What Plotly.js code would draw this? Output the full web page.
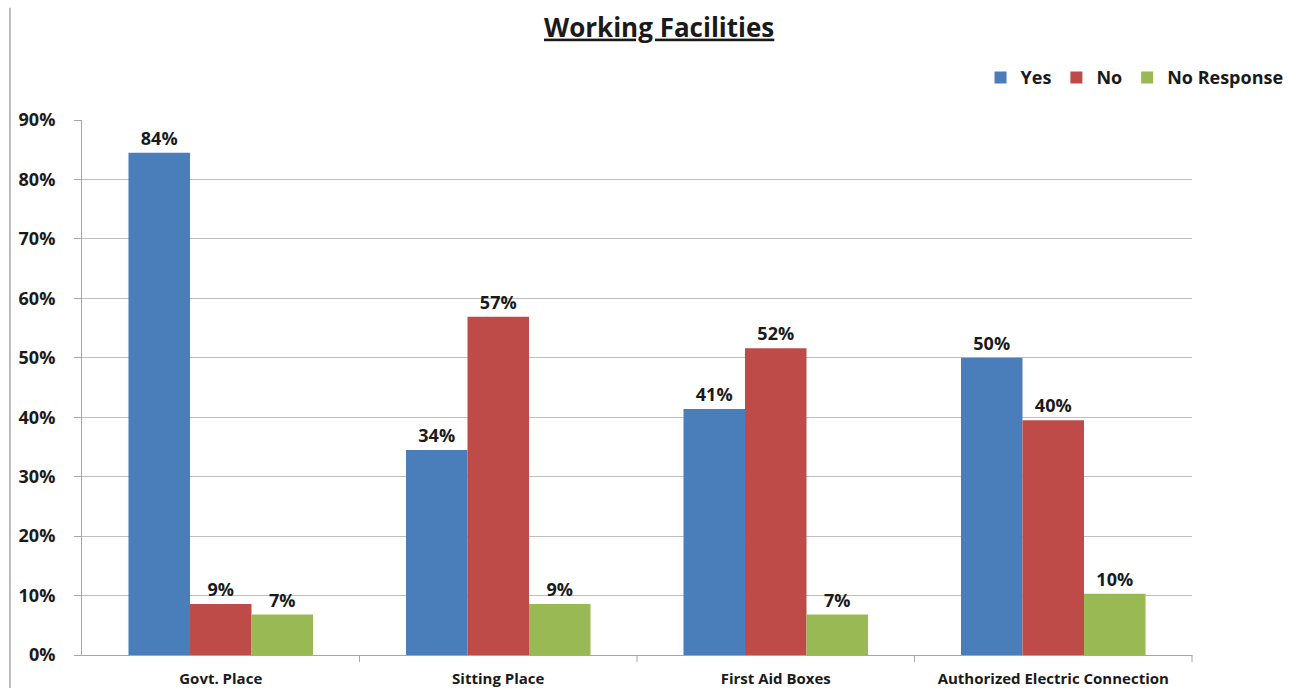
<!DOCTYPE html>
<html>
<head>
<meta charset="utf-8">
<script src="https://cdn.plot.ly/plotly-3.0.1.min.js"></script>
<style>html,body{margin:0;padding:0;background:#fff;}#chart{width:1295px;height:688px;}</style>
</head>
<body>
<div id="chart"></div>
<script>
var categories = ["Govt. Place", "Sitting Place", "First Aid Boxes", "Authorized Electric Connection"];
var yesValues = [0.845, 0.345, 0.414, 0.50];
var noValues = [0.086, 0.569, 0.516, 0.395];
var noResponseValues = [0.068, 0.086, 0.068, 0.103];
var yesLabels = ["84%", "34%", "41%", "50%"];
var noLabels = ["9%", "57%", "52%", "40%"];
var noResponseLabels = ["7%", "9%", "7%", "10%"];
var yTickVals = [0, 0.1, 0.2, 0.3, 0.4, 0.5, 0.6, 0.7, 0.8, 0.9];
var yTickText = ["0%", "10%", "20%", "30%", "40%", "50%", "60%", "70%", "80%", "90%"];

var fontFam = "'Open Sans', 'DejaVu Sans', sans-serif";
var labelFont = {family: fontFam, size: 18, color: "#1a1a1a", weight: "bold"};

function series(name, vals, labels, color) {
  return {
    type: "bar", name: name, x: categories, y: vals,
    text: labels, textposition: "outside", textfont: labelFont,
    cliponaxis: false, marker: {color: color, line: {width: 0}},
    hoverinfo: "none"
  };
}

var data = [
  series("Yes", yesValues, yesLabels, "#4a7ebb"),
  series("No", noValues, noLabels, "#be4b48"),
  series("No Response", noResponseValues, noResponseLabels, "#98b954")
];

var layout = {
  width: 1295, height: 688,
  margin: {l: 82, r: 103, t: 120, b: 33, pad: 0, autoexpand: false},
  paper_bgcolor: "#fff", plot_bgcolor: "#fff",
  title: {text: "<b><u>Working Facilities</u></b>", x: 0.509, xanchor: "center", y: 0.96, yanchor: "middle",
          font: {family: fontFam, size: 26, color: "#1a1a1a"}},
  barmode: "group", bargap: 0.335, bargroupgap: 0,
  showlegend: true,
  legend: {orientation: "h", xref: "container", yref: "container", x: 0.995, xanchor: "right", y: 0.887, yanchor: "middle",
           font: {family: fontFam, size: 18, color: "#1a1a1a", weight: "bold"},
           itemwidth: 30, tracegroupgap: 0, traceorder: "normal"},
  xaxis: {showgrid: false, showline: true, linecolor: "#a6a6a6", linewidth: 1,
          ticks: "outside", ticklen: 0, ticklabelstandoff: 10,
          tickfont: {family: fontFam, size: 15, color: "#1a1a1a", weight: "bold"},
          fixedrange: true},
  yaxis: {range: [0, 0.9], tickvals: yTickVals, ticktext: yTickText,
          showgrid: true, gridcolor: "#bfbfbf", gridwidth: 1, zeroline: false,
          showline: true, linecolor: "#a6a6a6", linewidth: 1,
          ticks: "outside", ticklen: 7, tickcolor: "#a6a6a6",
          tickfont: {family: fontFam, size: 18, color: "#1a1a1a", weight: "bold"}, ticklabelstandoff: 15,
          fixedrange: true},
  shapes: [
    {type: "line", xref: "paper", yref: "paper", x0: -0.0649, x1: -0.0649, y0: -0.07, y1: 1.21,
     line: {color: "#a6a6a6", width: 1.5}},
    {type: "line", xref: "paper", yref: "paper", x0: 0.25, x1: 0.25, y0: 0, y1: -0.013, line: {color: "#a6a6a6", width: 1}},
    {type: "line", xref: "paper", yref: "paper", x0: 0.5, x1: 0.5, y0: 0, y1: -0.013, line: {color: "#a6a6a6", width: 1}},
    {type: "line", xref: "paper", yref: "paper", x0: 0.75, x1: 0.75, y0: 0, y1: -0.013, line: {color: "#a6a6a6", width: 1}},
    {type: "line", xref: "paper", yref: "paper", x0: 1, x1: 1, y0: 0, y1: -0.013, line: {color: "#a6a6a6", width: 1}}
  ]
};

Plotly.newPlot("chart", data, layout, {displayModeBar: false, staticPlot: true});
</script>
</body>
</html>
